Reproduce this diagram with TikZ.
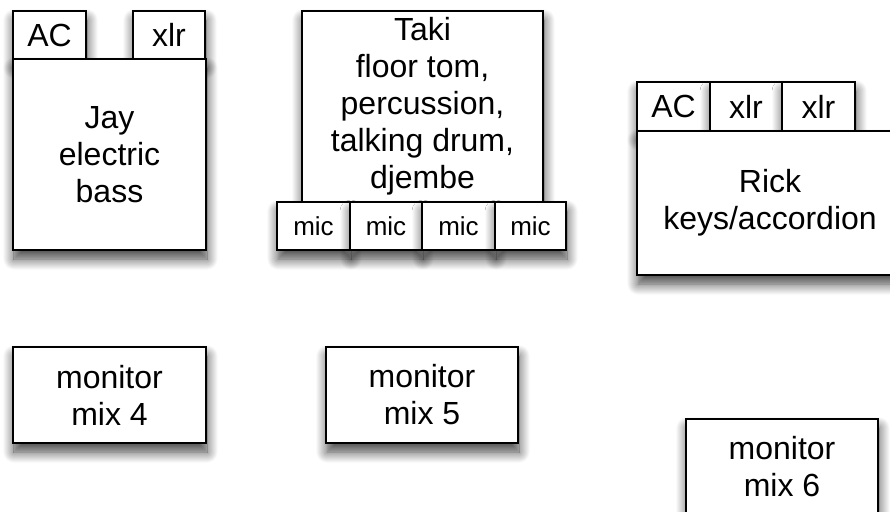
\documentclass[tikz,border=0pt]{standalone}
\usepackage{fontspec}
\setmainfont{Liberation Sans}
\usetikzlibrary{shadows.blur}
\tikzset{
  box/.style={draw=black, line width=1.6pt, fill=white, rectangle, inner sep=0pt, align=center,
    font=\fontsize{32}{37}\selectfont,
    blur shadow={shadow xshift=1pt, shadow yshift=-9pt, shadow blur radius=11pt, shadow blur steps=12, shadow opacity=75}},
  small/.style={box, font=\fontsize{26}{30}\selectfont},
}
\begin{document}
\begin{tikzpicture}[x=1pt,y=-1pt]
\useasboundingbox (0,0) rectangle (890,511);
% Jay
\node[box, minimum width=73pt, minimum height=48pt] (jayac) at (49.5,35) {AC};
\node[box, minimum width=72pt, minimum height=48pt] (jayxlr) at (169,35) {xlr};
\node[box, minimum width=193pt, minimum height=191pt] (jay) at (109.5,154.5) {Jay\\electric\\bass};
% Taki
\node[box, minimum width=241pt, minimum height=191pt] (taki) at (422.5,106.5) {Taki\\floor tom,\\percussion,\\talking drum,\\djembe};
\node[small, minimum width=73pt, minimum height=48pt] (mic1) at (313.5,226) {mic};
\node[small, minimum width=72pt, minimum height=48pt] (mic2) at (386,226) {mic};
\node[small, minimum width=73pt, minimum height=48pt] (mic3) at (458.5,226) {mic};
\node[small, minimum width=71pt, minimum height=48pt] (mic4) at (530.5,226) {mic};
% Rick
\node[box, minimum width=73pt, minimum height=49pt] (rickac) at (673.5,106.5) {AC};
\node[box, minimum width=72pt, minimum height=49pt] (rickxlr1) at (746,106.5) {xlr};
\node[box, minimum width=73pt, minimum height=49pt] (rickxlr2) at (818.5,106.5) {xlr};
\node[box, minimum width=266pt, minimum height=144pt] (rick) at (770,203) {Rick\\keys/accordion};
% monitors
\node[box, minimum width=193pt, minimum height=96pt] (mix4) at (109.5,395) {monitor\\mix 4};
\node[box, minimum width=192pt, minimum height=96pt] (mix5) at (422,395) {monitor\\mix 5};
\node[box, minimum width=192pt, minimum height=96pt] (mix6) at (782,467) {monitor\\mix 6};
\end{tikzpicture}
\end{document}
